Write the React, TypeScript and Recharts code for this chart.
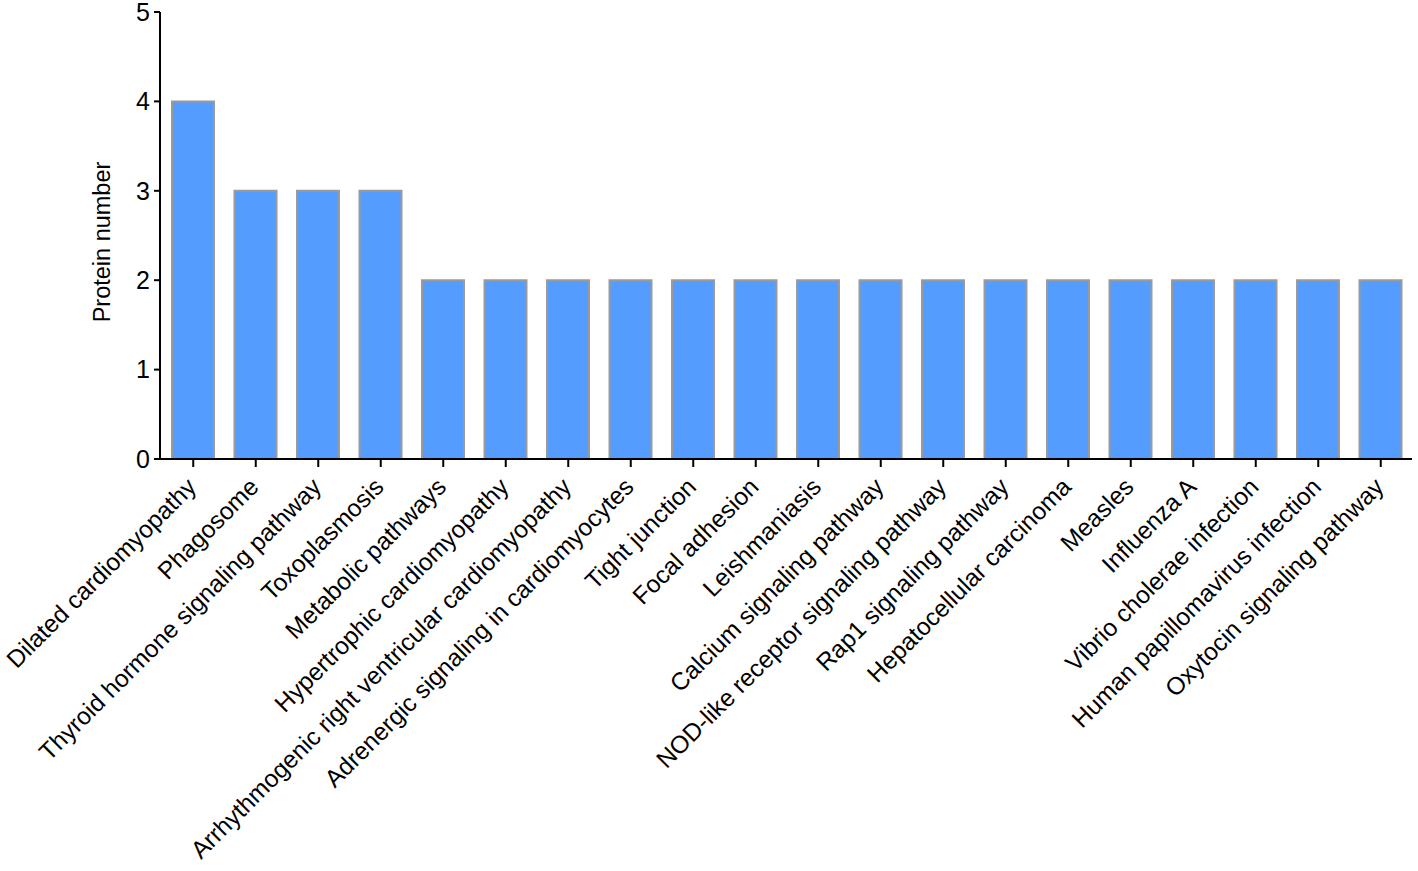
import { BarChart, Bar, XAxis, YAxis } from 'recharts';

const pathways = [
  'Dilated cardiomyopathy',
  'Phagosome',
  'Thyroid hormone signaling pathway',
  'Toxoplasmosis',
  'Metabolic pathways',
  'Hypertrophic cardiomyopathy',
  'Arrhythmogenic right ventricular cardiomyopathy',
  'Adrenergic signaling in cardiomyocytes',
  'Tight junction',
  'Focal adhesion',
  'Leishmaniasis',
  'Calcium signaling pathway',
  'NOD-like receptor signaling pathway',
  'Rap1 signaling pathway',
  'Hepatocellular carcinoma',
  'Measles',
  'Influenza A',
  'Vibrio cholerae infection',
  'Human papillomavirus infection',
  'Oxytocin signaling pathway',
];

const proteinCounts = [4, 3, 3, 3, 2, 2, 2, 2, 2, 2, 2, 2, 2, 2, 2, 2, 2, 2, 2, 2];

const yTicks = [0, 1, 2, 3, 4, 5];

const data = pathways.map((name, i) => ({ name, count: proteinCounts[i] }));

const font = 'Arial, "Liberation Sans", sans-serif';

function RotatedTick(props: any) {
  const { x, y, payload } = props;
  return (
    <g transform={`translate(${x - 8},${y + 7})`}>
      <text
        transform="rotate(-45)"
        textAnchor="end"
        dominantBaseline="hanging"
        fontSize={24.5}
        fontFamily={font}
        fill="#000"
      >
        {payload.value}
      </text>
    </g>
  );
}

function YLabel() {
  return (
    <text
      x={0}
      y={0}
      transform="translate(110,242) rotate(-90)"
      textAnchor="middle"
      fontSize={23.5}
      fontFamily={font}
      fill="#000"
    >
      Protein number
    </text>
  );
}

export default function App() {
  return (
    <div style={{ position: 'absolute', left: 0, top: 0, background: '#fff' }}>
      <BarChart
        width={1418}
        height={871}
        data={data}
        margin={{ top: 12, right: 6, left: 0, bottom: 0 }}
        barSize={42}
      >
        <XAxis
          dataKey="name"
          interval={0}
          height={412}
          axisLine={{ stroke: '#000', strokeWidth: 2 }}
          tickLine={{ stroke: '#000', strokeWidth: 2 }}
          tickSize={8}
          tick={<RotatedTick />}
          padding={{ left: 2, right: 0 }}
        />
        <YAxis
          width={160}
          domain={[0, 5]}
          ticks={yTicks}
          interval={0}
          axisLine={{ stroke: '#000', strokeWidth: 2 }}
          tickLine={{ stroke: '#000', strokeWidth: 2 }}
          tickSize={6}
          tickMargin={4}
          tick={{ fill: '#000', fontSize: 25, fontFamily: font }}
          label={<YLabel />}
        />
        <Bar
          dataKey="count"
          fill="#559CFF"
          stroke="#9A9A9A"
          strokeWidth={2}
          isAnimationActive={false}
        />
      </BarChart>
    </div>
  );
}
